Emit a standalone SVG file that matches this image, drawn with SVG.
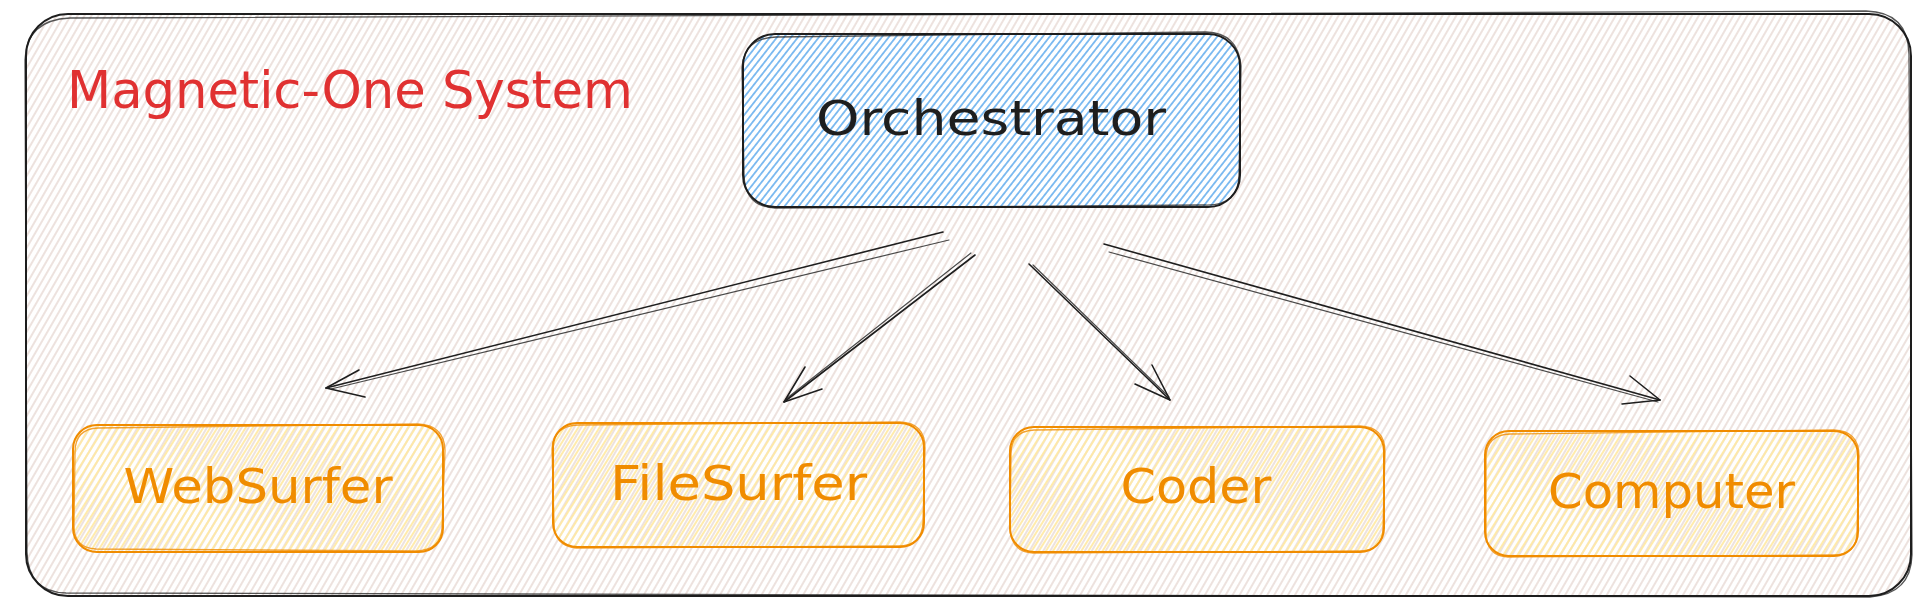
<svg xmlns="http://www.w3.org/2000/svg" width="1932" height="610" viewBox="0 0 1932 610">
  <style>
    .frame { fill: none; stroke: #1e1e1e; stroke-width: 2; stroke-linecap: round; }
    .frame2 { fill: none; stroke: #1e1e1e; stroke-width: 1.3; opacity: 0.75; }
    .orch { fill: none; stroke: #1e1e1e; stroke-width: 2; }
    .orch2 { fill: none; stroke: #1e1e1e; stroke-width: 1.3; opacity: 0.75; }
    .node { fill: none; stroke: #f08c00; stroke-width: 2; }
    .node2 { fill: none; stroke: #f08c00; stroke-width: 1.3; opacity: 0.8; }
    .title { font-family: "DejaVu Sans", "Liberation Sans", sans-serif; font-size: 52px; fill: #e03131; }
    .label { font-family: "DejaVu Sans", "Liberation Sans", sans-serif; font-size: 48px; text-anchor: middle; }
    .orchText { fill: #1e1e1e; }
    .nodeText { fill: #f08c00; }
    .conn { fill: none; stroke: #1e1e1e; stroke-width: 1.6; stroke-linecap: round; stroke-linejoin: round; }
    .conn2 { fill: none; stroke: #1e1e1e; stroke-width: 1.2; stroke-linecap: round; opacity: 0.8; }
  </style>
  <defs>
    <pattern id="bgHatch" patternUnits="userSpaceOnUse" width="6" height="6" patternTransform="rotate(30)">
      <line x1="3" y1="0" x2="3" y2="6" stroke="#ebdfdb" stroke-width="1.8"/>
    </pattern>
    <pattern id="blueHatch" patternUnits="userSpaceOnUse" width="5.5" height="5.5" patternTransform="rotate(38)">
      <line x1="2.75" y1="0" x2="2.75" y2="5.5" stroke="#72b5ef" stroke-width="1.7"/>
    </pattern>
    <pattern id="yellowHatch" patternUnits="userSpaceOnUse" width="6" height="6" patternTransform="rotate(32)">
      <line x1="3" y1="0" x2="3" y2="6" stroke="#ffe9a3" stroke-width="1.8"/>
    </pattern>
  </defs>

  <rect x="0" y="0" width="1932" height="610" fill="#ffffff"/>

  <g id="frame">
    <rect x="26" y="14" width="1885" height="582" rx="42" ry="42" fill="url(#bgHatch)"/>
    <rect class="frame" x="26" y="14" width="1885" height="582" rx="42" ry="42"/>
    <path class="frame2" d="M 70 18 L 1866 11 Q 1908 12 1909 54 L 1912 555 Q 1911 594 1870 597 L 66 593 Q 28 592 27 552 L 25 60 Q 26 20 70 18 Z"/>
    <text class="title" x="67" y="108" textLength="566" lengthAdjust="spacingAndGlyphs">Magnetic-One System</text>
  </g>

  <g id="orchestrator">
    <rect x="743" y="34" width="497" height="173" rx="32" ry="32" fill="#ffffff"/>
    <rect x="743" y="34" width="497" height="173" rx="32" ry="32" fill="url(#blueHatch)"/>
    <rect class="orch" x="743" y="34" width="497" height="173" rx="32" ry="32"/>
    <path class="orch2" d="M 776 37 L 1206 32 Q 1238 33 1241 66 L 1239 176 Q 1238 206 1205 205 L 775 208 Q 745 207 744 175 L 742 68 Q 744 38 776 37 Z"/>
    <text class="label orchText" x="991" y="135" textLength="350" lengthAdjust="spacingAndGlyphs">Orchestrator</text>
  </g>

  <g id="websurfer">
    <rect x="73" y="425" width="370" height="127" rx="24" ry="24" fill="url(#yellowHatch)"/>
    <rect class="node" x="73" y="425" width="370" height="127" rx="24" ry="24"/>
    <path class="node2" d="M 98 428 L 418 424 Q 444 425 445 450 L 442 528 Q 441 550 416 551 L 96 549 Q 74 548 74 526 L 75 452 Q 75 429 98 428 Z"/>
    <text class="label nodeText" x="258" y="503" textLength="269" lengthAdjust="spacingAndGlyphs">WebSurfer</text>
  </g>

  <g id="filesurfer">
    <rect x="553" y="423" width="371" height="124" rx="24" ry="24" fill="url(#yellowHatch)"/>
    <rect class="node" x="553" y="423" width="371" height="124" rx="24" ry="24"/>
    <path class="node2" d="M 578 425 L 900 422 Q 925 423 925 448 L 923 522 Q 922 546 898 546 L 576 548 Q 554 546 554 523 L 552 449 Q 553 426 578 425 Z"/>
    <text class="label nodeText" x="738.5" y="500" textLength="257" lengthAdjust="spacingAndGlyphs">FileSurfer</text>
  </g>

  <g id="coder">
    <rect x="1010" y="427" width="374" height="125" rx="24" ry="24" fill="url(#yellowHatch)"/>
    <rect class="node" x="1010" y="427" width="374" height="125" rx="24" ry="24"/>
    <path class="node2" d="M 1034 430 L 1360 426 Q 1385 427 1385 452 L 1383 528 Q 1383 551 1359 551 L 1033 553 Q 1011 552 1010 528 L 1011 454 Q 1011 431 1034 430 Z"/>
    <text class="label nodeText" x="1196" y="503" textLength="151" lengthAdjust="spacingAndGlyphs">Coder</text>
  </g>

  <g id="computer">
    <rect x="1485" y="431" width="373" height="125" rx="24" ry="24" fill="url(#yellowHatch)"/>
    <rect class="node" x="1485" y="431" width="373" height="125" rx="24" ry="24"/>
    <path class="node2" d="M 1510 434 L 1834 430 Q 1859 431 1859 456 L 1857 532 Q 1857 555 1833 555 L 1508 557 Q 1486 556 1486 532 L 1486 458 Q 1486 435 1510 434 Z"/>
    <text class="label nodeText" x="1671.5" y="508" textLength="247" lengthAdjust="spacingAndGlyphs">Computer</text>
  </g>

  <g id="connectors">
    <!-- Orchestrator to WebSurfer -->
    <path class="conn" d="M 943 232 L 326 388"/>
    <path class="conn2" d="M 949 240 L 331 389"/>
    <path class="conn" d="M 359 370 L 326 388 L 365 397"/>
    <!-- Orchestrator to FileSurfer -->
    <path class="conn" d="M 975 255 L 784 402"/>
    <path class="conn2" d="M 971 253 L 786 399"/>
    <path class="conn" d="M 805 367 L 784 402 L 822 389"/>
    <!-- Orchestrator to Coder -->
    <path class="conn" d="M 1029 264 L 1170 400"/>
    <path class="conn2" d="M 1033 265 L 1169 397"/>
    <path class="conn" d="M 1135 384 L 1170 400 L 1152 365"/>
    <!-- Orchestrator to Computer -->
    <path class="conn" d="M 1104 244 L 1660 400"/>
    <path class="conn2" d="M 1109 252 L 1658 402"/>
    <path class="conn" d="M 1622 404 L 1660 400 L 1630 376"/>
  </g>
</svg>
